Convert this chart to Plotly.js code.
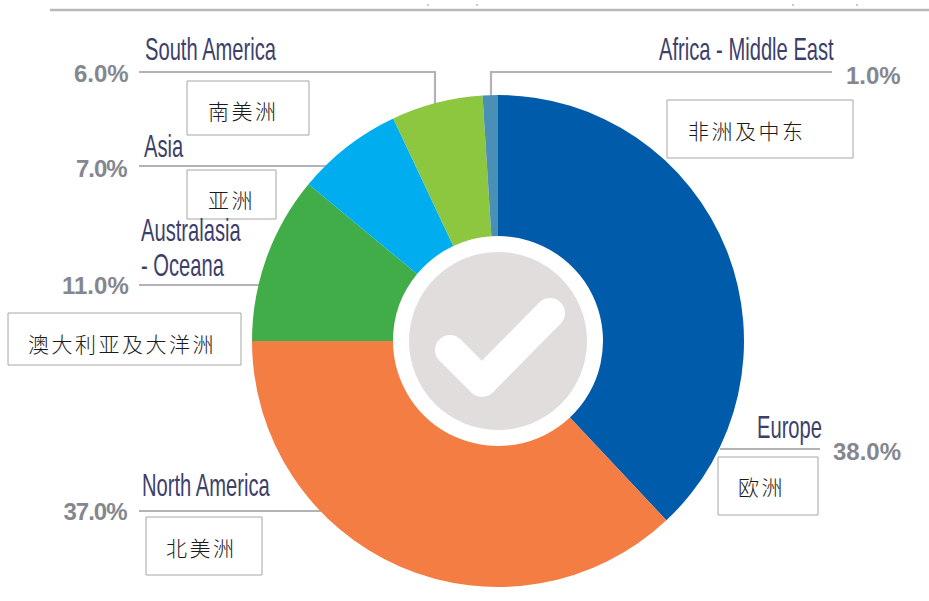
<!DOCTYPE html>
<html>
<head>
<meta charset="utf-8">
<script src="https://cdn.plot.ly/plotly-3.0.1.min.js"></script>
<style>
html,body{margin:0;padding:0;background:#fff;overflow:hidden}
#chart{width:929px;height:601px}
.annotation[data-index="0"] text,.annotation[data-index="1"] text,.annotation[data-index="2"] text,
.annotation[data-index="3"] text,.annotation[data-index="4"] text,.annotation[data-index="5"] text{letter-spacing:2.5px}
.annotation[data-index="6"] text,.annotation[data-index="7"] text,.annotation[data-index="8"] text,.annotation[data-index="9"] text,
.annotation[data-index="10"] text,.annotation[data-index="11"] text,.annotation[data-index="12"] text{
  transform-box:fill-box;transform-origin:left center;transform:scaleX(.63)}
.annotation[data-index="14"] text,.annotation[data-index="16"] text{letter-spacing:-1px}
</style>
</head>
<body>
<div id="chart"></div>
<script>
const regions = ['Europe','North America','Australasia - Oceana','Asia','South America','Africa - Middle East'];
const shares = [38,37,11,7,6,1];
const colors = ['#005BAA','#F47D44','#41AD49','#00AEEF','#8DC63F','#4A8FB5'];
const chineseLabels = ['欧洲','北美洲','澳大利亚及大洋洲','亚洲','南美洲','非洲及中东'];
const englishLabels = ['Europe','North America','Australasia','- Oceana','Asia','South America','Africa - Middle East'];
const percentLabels = shares.map(v => v.toFixed(1) + '%');

const W = 929, H = 601;
const X = x => x / W, Y = y => 1 - y / H;

const cnPos = [[736,486],[164,547],[26,343],[206,199],[206,110],[686,130]];
const enPos = [[755,427],[140,485],[139,230],[139,265],[142,146],[143,49],[657,49]];
const pctPos = [[903,451],[131,511],[131,285],[131,169],[131,73],[903,75]];
const boxes = [[718,457,818,515],[146,517,262,575],[8,313,241,365],[187,170,276,219],[187,81,309,135],[667,100,853,158]];
const leaders = [
  [[720,449],[820,449]],
  [[139,511],[322,511]],
  [[139,285],[262,285]],
  [[139,166],[330,166]],
  [[139,72],[435,72],[435,104]],
  [[832,72],[491,72],[491,100]]
];
const specks = [427,476,792,856];

const annotations = [];
chineseLabels.forEach((t,i)=>annotations.push({text:t,x:X(cnPos[i][0]),y:Y(cnPos[i][1]),xref:'paper',yref:'paper',
  xanchor:'left',yanchor:'middle',align:'left',showarrow:false,font:{family:'"Noto Sans CJK SC"',size:21,color:'#1a1a1a',weight:300}}));
englishLabels.forEach((t,i)=>annotations.push({text:t,x:X(enPos[i][0]),y:Y(enPos[i][1]),xref:'paper',yref:'paper',
  xanchor:'left',yanchor:'middle',align:'left',showarrow:false,
  font:{family:'"Liberation Sans",sans-serif',size:32,color:'#3d3f6b'}}));
percentLabels.forEach((t,i)=>annotations.push({text:t,x:X(pctPos[i][0]),y:Y(pctPos[i][1]),xref:'paper',yref:'paper',
  xanchor:'right',yanchor:'middle',showarrow:false,
  font:{family:'"Liberation Sans",sans-serif',size:24,color:'#858790',weight:700}}));

const shapes = [];
shapes.push({type:'line',xref:'paper',yref:'paper',x0:X(50),x1:X(929),y0:Y(10),y1:Y(10),layer:'below',line:{color:'#b8b8ba',width:2.5}});
specks.forEach(x=>shapes.push({type:'rect',xref:'paper',yref:'paper',x0:X(x),x1:X(x+2),y0:Y(4),y1:Y(6),layer:'below',fillcolor:'#c5c8ee',line:{width:0}}));
leaders.forEach(pts=>{
  shapes.push({type:'path',xref:'paper',yref:'paper',layer:'below',line:{color:'#b3b3b5',width:2.2},
    path:pts.map((p,i)=>(i?'L':'M')+X(p[0])+','+Y(p[1])).join(' ')});
});
boxes.forEach(b=>shapes.push({type:'rect',xref:'paper',yref:'paper',x0:X(b[0]),x1:X(b[2]),y0:Y(b[1]),y1:Y(b[3]),
  layer:'below',fillcolor:'#fff',line:{color:'#a6a6a6',width:1}}));
const circle=(cx,cy,r,c)=>({type:'circle',xref:'paper',yref:'paper',x0:X(cx-r),x1:X(cx+r),y0:Y(cy+r),y1:Y(cy-r),
  layer:'above',fillcolor:c,line:{width:0}});
shapes.push(circle(498,341,89,'#E0DDDC'));
const tick=[[450,350],[482,382],[550,313]];
for(let i=0;i<2;i++){
  shapes.push({type:'line',xref:'paper',yref:'paper',layer:'above',line:{color:'#fff',width:30},
    x0:X(tick[i][0]),y0:Y(tick[i][1]),x1:X(tick[i+1][0]),y1:Y(tick[i+1][1])});
}
tick.forEach(p=>shapes.push(circle(p[0],p[1],15,'#fff')));

Plotly.newPlot('chart',[{
  type:'pie',labels:regions,values:shares,sort:false,direction:'clockwise',rotation:0,hole:105/246,
  marker:{colors:colors,line:{width:0}},textinfo:'none',hoverinfo:'label+percent',
  domain:{x:[252/W,744/W],y:[1-587/H,1-95/H]}
}],{
  width:W,height:H,margin:{l:0,r:0,t:0,b:0},showlegend:false,paper_bgcolor:'#fff',
  annotations:annotations,shapes:shapes
},{displayModeBar:false,staticPlot:true});
</script>
</body>
</html>
